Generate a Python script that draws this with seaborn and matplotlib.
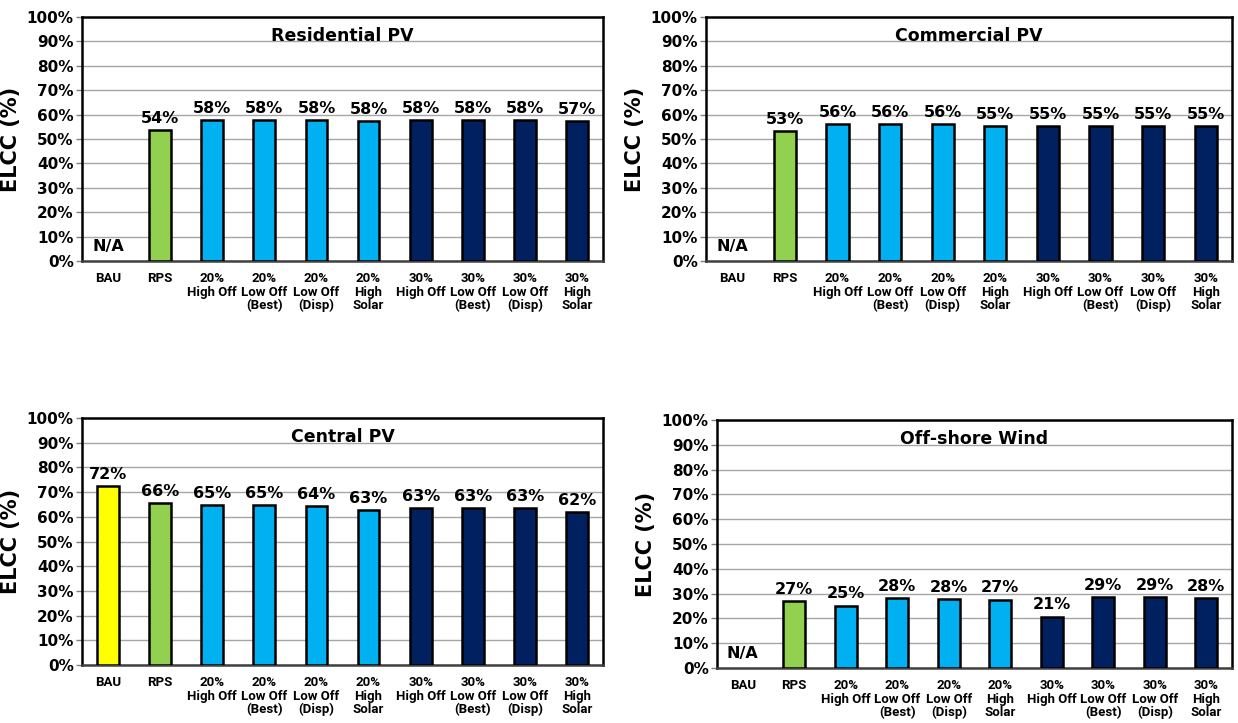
import numpy as np
import pandas as pd
import matplotlib
matplotlib.use("Agg")
import matplotlib.pyplot as plt
from matplotlib import font_manager
import seaborn as sns

categories = ["BAU", "RPS", "20%\nHigh Off", "20%\nLow Off\n(Best)", "20%\nLow Off\n(Disp)",
              "20%\nHigh\nSolar", "30%\nHigh Off", "30%\nLow Off\n(Best)", "30%\nLow Off\n(Disp)",
              "30%\nHigh\nSolar"]
panel_titles = ["Residential PV", "Commercial PV", "Central PV", "Off-shore Wind"]

residential = [np.nan, 53.8, 57.9, 57.9, 57.9, 57.5, 57.6, 57.6, 57.6, 57.4]
residential_labels = ["", "54%", "58%", "58%", "58%", "58%", "58%", "58%", "58%", "57%"]
commercial = [np.nan, 53.2, 56.0, 56.0, 56.0, 55.4, 55.4, 55.4, 55.4, 55.2]
commercial_labels = ["", "53%", "56%", "56%", "56%", "55%", "55%", "55%", "55%", "55%"]
central = [72.5, 65.5, 64.6, 64.6, 64.5, 62.8, 63.4, 63.4, 63.4, 61.9]
central_labels = ["72%", "66%", "65%", "65%", "64%", "63%", "63%", "63%", "63%", "62%"]
offshore = [np.nan, 27.0, 25.2, 28.2, 27.9, 27.6, 20.7, 28.6, 28.6, 28.3]
offshore_labels = ["", "27%", "25%", "28%", "28%", "27%", "21%", "29%", "29%", "28%"]

bar_colors = ["#FFFF00", "#92D050", "#00B0F0", "#00B0F0", "#00B0F0", "#00B0F0",
              "#002060", "#002060", "#002060", "#002060"]

series = [residential, commercial, central, offshore]
series_labels = [residential_labels, commercial_labels, central_labels, offshore_labels]

sns.set_theme(style="white")
plt.rcParams["font.family"] = ["DejaVu Sans"]
plt.rcParams["text.color"] = "black"
plt.rcParams["axes.labelcolor"] = "black"
plt.rcParams["xtick.color"] = "black"
plt.rcParams["ytick.color"] = "black"

available = {f.name for f in font_manager.fontManager.ttflist}
narrow = next((f for f in ["Liberation Sans Narrow", "Roboto", "Liberation Sans"] if f in available),
              "DejaVu Sans")

fig = plt.figure(figsize=(12.38, 7.23), dpi=100)
W, H = 1238, 723
boxes = [(82, 17, 603, 261), (706, 17, 1232, 261), (82, 418, 603, 665), (717, 420, 1232, 668)]

palette = dict(zip(categories, bar_colors))

for i, (title, vals, labs, box) in enumerate(zip(panel_titles, series, series_labels, boxes)):
    l, t, r, b = box
    ax = fig.add_axes([l / W, 1 - b / H, (r - l) / W, (b - t) / H])
    df = pd.DataFrame({"scenario": categories, "value": vals})
    sns.barplot(data=df, x="scenario", y="value", hue="scenario", order=categories,
                hue_order=categories, palette=palette, dodge=False, legend=False,
                saturation=1, width=0.42, edgecolor="black", linewidth=1.8, ax=ax, zorder=3)
    ax.set_ylim(0, 100)
    ax.set_xlim(-0.5, len(categories) - 0.5)
    ax.set_yticks(np.arange(0, 101, 10))
    ax.set_yticklabels([f"{v}%" for v in range(0, 101, 10)], fontsize=11, fontweight="bold")
    ax.set_xticks(range(len(categories)))
    ax.set_xticklabels(categories, fontsize=9.5, fontweight="bold", linespacing=1.05,
                       family=narrow)
    ax.set_xticks(np.arange(-0.5, len(categories), 1), minor=True)
    ax.tick_params(axis="x", which="major", length=0, pad=8)
    ax.tick_params(axis="x", which="minor", length=5, width=1, color="#808080", direction="out")
    ax.tick_params(axis="y", which="major", length=4, width=1, color="#808080", direction="out", pad=2, left=True)
    ax.grid(axis="y", color="#A6A6A6", linewidth=1, zorder=0)
    ax.set_axisbelow(True)
    ax.set_xlabel("")
    ax.set_ylabel("ELCC (%)", fontsize=15, fontweight="bold", labelpad=4)
    for side in ["top", "right", "left"]:
        ax.spines[side].set_color("black")
        ax.spines[side].set_linewidth(1.8)
        ax.spines[side].set_visible(True)
    ax.spines["bottom"].set_color("#404040")
    ax.spines["bottom"].set_linewidth(1.8)
    ax.text(0.5, 0.96, title, transform=ax.transAxes, ha="center", va="top",
            fontsize=12.5, fontweight="bold")
    for j, (v, lab) in enumerate(zip(vals, labs)):
        if np.isnan(v):
            ax.text(j, 6, "N/A", ha="center", va="center", fontsize=11.5, fontweight="bold")
        else:
            ax.annotate(lab, (j, v), xytext=(0, 3), textcoords="offset points",
                        ha="center", va="bottom", fontsize=11.5, fontweight="bold")

fig.savefig("out.png", dpi=100, facecolor="white")
